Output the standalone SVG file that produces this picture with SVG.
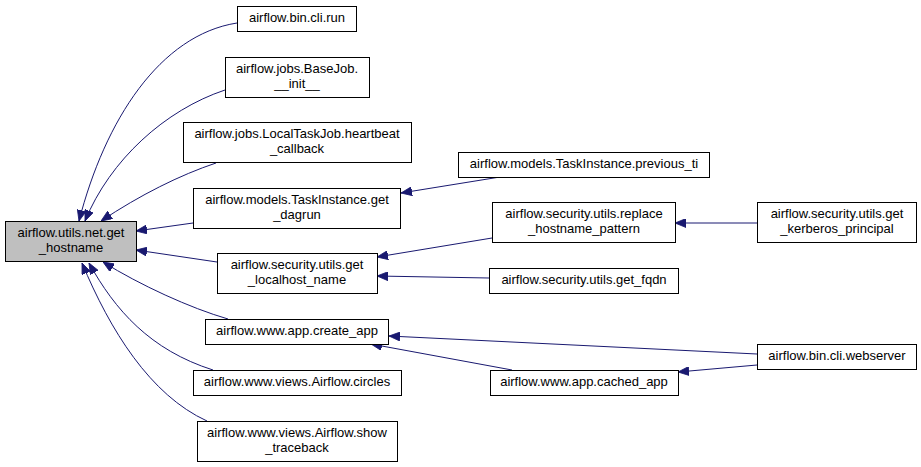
<svg xmlns="http://www.w3.org/2000/svg" width="921" height="467" viewBox="0 0 921 467">
<defs>
<style>
.n rect{fill:#ffffff;stroke:#000000;stroke-width:1}
.n.sel rect{fill:#bfbfbf}
.n text{font-family:"Liberation Sans",Arial,Helvetica,sans-serif;font-size:13px;fill:#000000;text-anchor:middle}
.e path{fill:none;stroke:#191970;stroke-width:1;marker-end:url(#ah)}
</style>
<marker id="ah" viewBox="0 0 11 9" refX="11" refY="4.5" markerWidth="11" markerHeight="9" orient="auto" markerUnits="userSpaceOnUse">
<path d="M0,0 L11,4.5 L0,9 z" fill="#191970" stroke="#191970" stroke-width="0.8"/>
</marker>
</defs>
<rect x="0" y="0" width="921" height="467" fill="#ffffff"/>
<g id="edges" class="e">
<path d="M237,23 C160,35 105,120 79,221"/>
<path d="M225,90 C165,110 110,160 85,221"/>
<path d="M216,163 C180,175 140,195 101,221"/>
<path d="M193,223 L136,231"/>
<path d="M217,262 L136,250"/>
<path d="M228,319 C190,308 140,285 103,262"/>
<path d="M213,370 C150,350 115,310 89,263"/>
<path d="M207,421 C150,395 110,330 82,263"/>
<path d="M500,177 L401,193"/>
<path d="M492,238 L377,257"/>
<path d="M757,223 L675,223"/>
<path d="M489,278 L377,276"/>
<path d="M757,354 L389,336"/>
<path d="M757,365 L678,372"/>
<path d="M512,370 L371,344"/>
</g>
<g id="node_main" class="n sel"><rect x="5.5" y="221.5" width="131" height="40"/><text x="71" y="237">airflow.utils.net.get</text><text x="71" y="252">_hostname</text></g>
<g id="node_run" class="n"><rect x="237.5" y="6.5" width="119" height="25"/><text x="297" y="22">airflow.bin.cli.run</text></g>
<g id="node_basejob" class="n"><rect x="225.5" y="57.5" width="144" height="40"/><text x="297" y="73">airflow.jobs.BaseJob.</text><text x="297" y="88">__init__</text></g>
<g id="node_localtaskjob" class="n"><rect x="183.5" y="122.5" width="228" height="40"/><text x="297" y="138">airflow.jobs.LocalTaskJob.heartbeat</text><text x="297" y="153">_callback</text></g>
<g id="node_get_dagrun" class="n"><rect x="193.5" y="188.5" width="207" height="40"/><text x="297" y="204">airflow.models.TaskInstance.get</text><text x="297" y="219">_dagrun</text></g>
<g id="node_localhost" class="n"><rect x="217.5" y="253.5" width="160" height="40"/><text x="297" y="269">airflow.security.utils.get</text><text x="297" y="284">_localhost_name</text></g>
<g id="node_create_app" class="n"><rect x="205.5" y="319.5" width="183" height="25"/><text x="297" y="335">airflow.www.app.create_app</text></g>
<g id="node_circles" class="n"><rect x="193.5" y="370.5" width="208" height="25"/><text x="297" y="386">airflow.www.views.Airflow.circles</text></g>
<g id="node_show_traceback" class="n"><rect x="197.5" y="421.5" width="200" height="40"/><text x="297" y="437">airflow.www.views.Airflow.show</text><text x="297" y="452">_traceback</text></g>
<g id="node_previous_ti" class="n"><rect x="458.5" y="152.5" width="251" height="25"/><text x="584" y="168">airflow.models.TaskInstance.previous_ti</text></g>
<g id="node_replace" class="n"><rect x="492.5" y="202.5" width="183" height="40"/><text x="584" y="218">airflow.security.utils.replace</text><text x="584" y="233">_hostname_pattern</text></g>
<g id="node_get_fqdn" class="n"><rect x="489.5" y="268.5" width="189" height="25"/><text x="584" y="284">airflow.security.utils.get_fqdn</text></g>
<g id="node_cached_app" class="n"><rect x="490.5" y="370.5" width="188" height="25"/><text x="584" y="386">airflow.www.app.cached_app</text></g>
<g id="node_kerberos" class="n"><rect x="757.5" y="202.5" width="159" height="40"/><text x="837" y="218">airflow.security.utils.get</text><text x="837" y="233">_kerberos_principal</text></g>
<g id="node_webserver" class="n"><rect x="757.5" y="344.5" width="159" height="25"/><text x="837" y="360">airflow.bin.cli.webserver</text></g>
</svg>
